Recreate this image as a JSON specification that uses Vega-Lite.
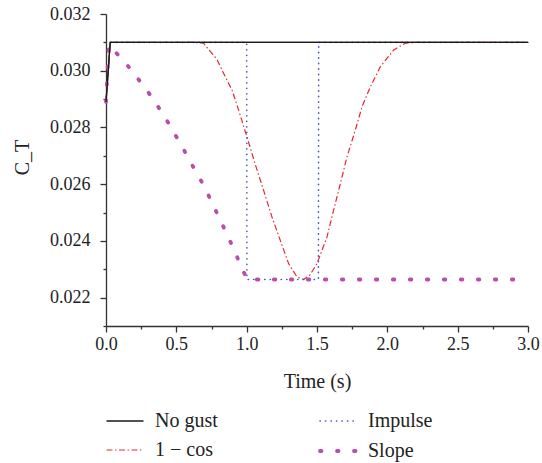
{
  "$schema": "https://vega.github.io/schema/vega-lite/v6.json",
  "width": 422,
  "height": 312,
  "autosize": {"type": "none"},
  "padding": {"left": 106, "top": 14, "right": 14, "bottom": 137},
  "background": "white",
  "config": {
    "view": {"stroke": null},
    "font": "Liberation Serif",
    "axis": {
      "domainColor": "#333",
      "tickColor": "#333",
      "labelColor": "#222",
      "titleColor": "#222",
      "labelFont": "Liberation Serif",
      "titleFont": "Liberation Serif",
      "labelFontSize": 18,
      "titleFontSize": 20,
      "titleFontWeight": "normal",
      "grid": false,
      "domainWidth": 1.3,
      "tickWidth": 1.3
    },
    "legend": {
      "title": null,
      "orient": "none",
      "legendX": -1,
      "legendY": 388,
      "columns": 2,
      "columnPadding": 94,
      "rowPadding": -9,
      "symbolType": "stroke",
      "symbolSize": 1296,
      "labelFont": "Liberation Serif",
      "labelFontSize": 20,
      "labelColor": "#222",
      "labelOffset": 10,
      "padding": 0
    }
  },
  "datasets": {
    "curves": [
      {"series": "No gust", "t": 0, "ct": 0.0289},
      {"series": "No gust", "t": 0.03, "ct": 0.031},
      {"series": "No gust", "t": 3.0, "ct": 0.031},

      {"series": "1 − cos", "t": 0, "ct": 0.0289},
      {"series": "1 − cos", "t": 0.03, "ct": 0.031},
      {"series": "1 − cos", "t": 0.62, "ct": 0.031},
      {"series": "1 − cos", "t": 0.694, "ct": 0.03097},
      {"series": "1 − cos", "t": 0.718, "ct": 0.03082},
      {"series": "1 − cos", "t": 0.753, "ct": 0.03061},
      {"series": "1 − cos", "t": 0.789, "ct": 0.0304},
      {"series": "1 − cos", "t": 0.825, "ct": 0.03002},
      {"series": "1 − cos", "t": 0.86, "ct": 0.02967},
      {"series": "1 − cos", "t": 0.896, "ct": 0.02932},
      {"series": "1 − cos", "t": 0.955, "ct": 0.02842},
      {"series": "1 − cos", "t": 1.002, "ct": 0.02767},
      {"series": "1 − cos", "t": 1.061, "ct": 0.0267},
      {"series": "1 − cos", "t": 1.12, "ct": 0.02579},
      {"series": "1 − cos", "t": 1.18, "ct": 0.02484},
      {"series": "1 − cos", "t": 1.239, "ct": 0.02402},
      {"series": "1 − cos", "t": 1.298, "ct": 0.0232},
      {"series": "1 − cos", "t": 1.358, "ct": 0.02273},
      {"series": "1 − cos", "t": 1.405, "ct": 0.02264},
      {"series": "1 − cos", "t": 1.45, "ct": 0.0228},
      {"series": "1 − cos", "t": 1.5, "ct": 0.0232},
      {"series": "1 − cos", "t": 1.571, "ct": 0.02414},
      {"series": "1 − cos", "t": 1.618, "ct": 0.02508},
      {"series": "1 − cos", "t": 1.666, "ct": 0.02602},
      {"series": "1 − cos", "t": 1.713, "ct": 0.02696},
      {"series": "1 − cos", "t": 1.772, "ct": 0.0279},
      {"series": "1 − cos", "t": 1.82, "ct": 0.02873},
      {"series": "1 − cos", "t": 1.879, "ct": 0.02943},
      {"series": "1 − cos", "t": 1.95, "ct": 0.03014},
      {"series": "1 − cos", "t": 2.045, "ct": 0.03073},
      {"series": "1 − cos", "t": 2.128, "ct": 0.03097},
      {"series": "1 − cos", "t": 2.21, "ct": 0.031},
      {"series": "1 − cos", "t": 3.0, "ct": 0.031},

      {"series": "Impulse", "t": 0, "ct": 0.0289},
      {"series": "Impulse", "t": 0.03, "ct": 0.031},
      {"series": "Impulse", "t": 1.0, "ct": 0.031},
      {"series": "Impulse", "t": 1.002, "ct": 0.02264},
      {"series": "Impulse", "t": 1.51, "ct": 0.02264},
      {"series": "Impulse", "t": 1.512, "ct": 0.031},
      {"series": "Impulse", "t": 3.0, "ct": 0.031},

      {"series": "Slope", "t": 0, "ct": 0.0289},
      {"series": "Slope", "t": 0.02, "ct": 0.0309},
      {"series": "Slope", "t": 0.073, "ct": 0.03063},
      {"series": "Slope", "t": 0.154, "ct": 0.03018},
      {"series": "Slope", "t": 0.227, "ct": 0.02972},
      {"series": "Slope", "t": 0.298, "ct": 0.02926},
      {"series": "Slope", "t": 0.367, "ct": 0.02876},
      {"series": "Slope", "t": 0.429, "ct": 0.02828},
      {"series": "Slope", "t": 0.486, "ct": 0.02779},
      {"series": "Slope", "t": 0.542, "ct": 0.02732},
      {"series": "Slope", "t": 0.599, "ct": 0.02679},
      {"series": "Slope", "t": 0.661, "ct": 0.02626},
      {"series": "Slope", "t": 0.708, "ct": 0.02582},
      {"series": "Slope", "t": 0.76, "ct": 0.02528},
      {"series": "Slope", "t": 0.813, "ct": 0.02473},
      {"series": "Slope", "t": 0.862, "ct": 0.02421},
      {"series": "Slope", "t": 0.912, "ct": 0.02367},
      {"series": "Slope", "t": 0.959, "ct": 0.02311},
      {"series": "Slope", "t": 1.004, "ct": 0.02264},
      {"series": "Slope", "t": 3.0, "ct": 0.02264}
    ]
  },
  "layer": [
    {
      "data": {"name": "curves"},
      "mark": {"type": "line", "strokeCap": "round"},
      "encoding": {
        "x": {
          "field": "t", "type": "quantitative",
          "scale": {"domain": [0, 3], "nice": false},
          "axis": {"values": [0, 0.5, 1, 1.5, 2, 2.5, 3], "format": ".1f", "tickSize": 6, "labelPadding": 3, "labelFlush": false, "title": "Time (s)", "titlePadding": 18}
        },
        "y": {
          "field": "ct", "type": "quantitative",
          "scale": {"domain": [0.021, 0.032], "nice": false, "zero": false},
          "axis": {"values": [0.022, 0.024, 0.026, 0.028, 0.03, 0.032], "format": ".3f", "tickSize": 6, "labelPadding": 10, "labelFlush": false, "title": "C_T", "titleX": -84, "titleY": 143, "titleAngle": -90, "titleAlign": "center", "titleBaseline": "middle"}
        },
        "color": {
          "field": "series", "type": "nominal",
          "scale": {"domain": ["No gust", "1 − cos", "Impulse", "Slope"], "range": ["#1a1a1a", "#e8262a", "#4459c0", "#b84ea7"]},
          "legend": {"encode": {"symbols": {"update": {"strokeCap": {"value": "round"}}}}}
        },
        "strokeDash": {
          "field": "series", "type": "nominal",
          "scale": {"domain": ["No gust", "1 − cos", "Impulse", "Slope"], "range": [[1, 0], [5, 3.5, 0.5, 3.5], [0.3, 5.2], [1.5, 15.5]]},
          "legend": {"encode": {"symbols": {"update": {"strokeCap": {"value": "round"}}}}}
        },
        "strokeWidth": {
          "field": "series", "type": "nominal",
          "scale": {"type": "ordinal", "domain": ["No gust", "1 − cos", "Impulse", "Slope"], "range": [1.3, 1.2, 1.6, 3.8]},
          "legend": {"encode": {"symbols": {"update": {"strokeCap": {"value": "round"}}}}}
        }
      }
    },
    {
      "data": {"name": "curves"},
      "transform": [{"filter": "datum.series === 'No gust'"}],
      "mark": {"type": "line", "color": "#1a1a1a", "strokeWidth": 1.3},
      "encoding": {
        "x": {
          "field": "t", "type": "quantitative",
          "axis": {"orient": "bottom", "values": [0.25, 0.75, 1.25, 1.75, 2.25, 2.75], "tickSize": 3, "labels": false, "domain": false, "title": null}
        },
        "y": {
          "field": "ct", "type": "quantitative",
          "axis": {"orient": "left", "values": [0.021, 0.023, 0.025, 0.027, 0.029, 0.031], "tickSize": 3, "labels": false, "domain": false, "title": null}
        }
      }
    }
  ],
  "resolve": {"axis": {"x": "independent", "y": "independent"}}
}
